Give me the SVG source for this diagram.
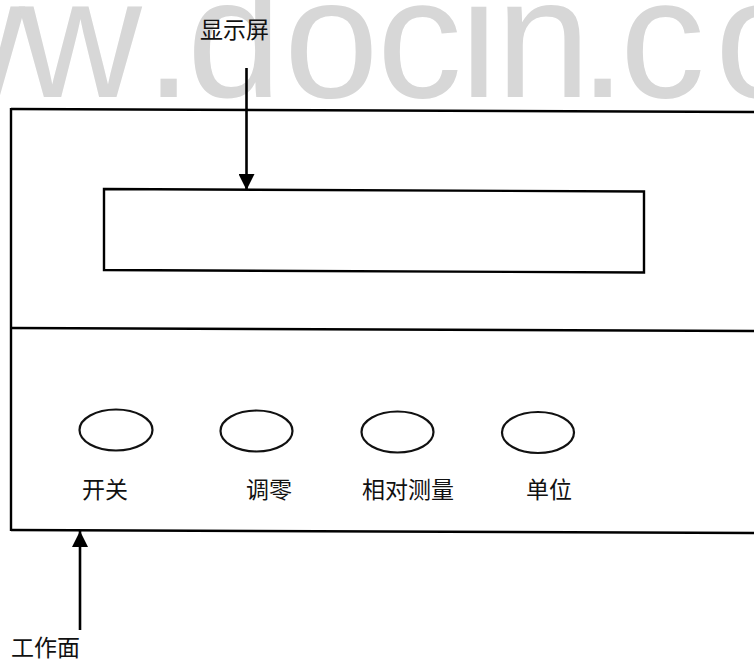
<svg xmlns="http://www.w3.org/2000/svg" width="754" height="661" viewBox="0 0 754 661">
  <style>
    .ln { stroke: #000; stroke-width: 2.4; fill: none; }
    .btn { stroke: #111; stroke-width: 2.2; fill: none; }
    .lbl { font-family: "Noto Sans CJK SC", "Noto Sans CJK TC", sans-serif; font-size: 23px; fill: #111; }
    .wm { font-family: "Liberation Sans", Arial, sans-serif; font-size: 170px; fill: #d7d7d7; }
    .arr { stroke: #000; stroke-width: 2.6; fill: none; marker-end: url(#ah); }
  </style>
  <defs>
    <marker id="ah" markerUnits="userSpaceOnUse" markerWidth="16" markerHeight="16" viewBox="0 0 16 16" refX="16" refY="8" orient="auto">
      <path d="M0,0 L16,8 L0,16 z" fill="#000"/>
    </marker>
  </defs>
  <rect width="754" height="661" fill="#fff"/>
  <g id="watermark">
    <text class="wm" x="-215 -98 19 145 187 284 377 460 496 579 620 715 805" y="97">www.docin.com</text>
  </g>
  <g id="panel">
    <line class="ln" x1="11" y1="109" x2="754" y2="112"/>
    <line class="ln" x1="11" y1="328" x2="754" y2="331"/>
    <line class="ln" x1="11" y1="530" x2="754" y2="533"/>
    <line class="ln" x1="11" y1="108" x2="11" y2="531"/>
  </g>
  <g id="display">
    <polygon class="ln" points="104,189 644,191.5 644,272.5 104,270"/>
  </g>
  <g id="btn-power">
    <ellipse class="btn" cx="116" cy="430" rx="36.5" ry="20.5"/>
    <text class="lbl" x="82" y="498">开关</text>
  </g>
  <g id="btn-zero">
    <ellipse class="btn" cx="256.5" cy="431" rx="36" ry="20.5"/>
    <text class="lbl" x="246" y="498">调零</text>
  </g>
  <g id="btn-relative">
    <ellipse class="btn" cx="397.5" cy="432" rx="36" ry="20.5"/>
    <text class="lbl" x="362" y="498">相对测量</text>
  </g>
  <g id="btn-unit">
    <ellipse class="btn" cx="538" cy="432.5" rx="36" ry="20.5"/>
    <text class="lbl" x="526" y="498">单位</text>
  </g>
  <g id="label-display">
    <text class="lbl" x="200" y="38">显示屏</text>
  </g>
  <g id="label-surface">
    <text class="lbl" x="11" y="656">工作面</text>
  </g>
  <g id="connectors">
    <line class="arr" x1="246.5" y1="68" x2="246.5" y2="190"/>
    <line class="arr" x1="80" y1="630" x2="80" y2="531"/>
  </g>
</svg>
